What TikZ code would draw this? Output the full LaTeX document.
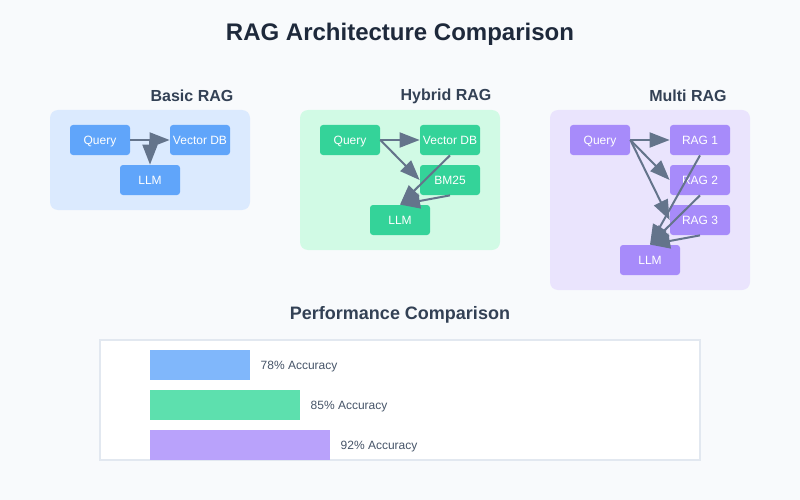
\documentclass[tikz,border=0pt]{standalone}
\usepackage{fontspec}
\setmainfont{Liberation Sans}
\usetikzlibrary{arrows.meta}
\definecolor{mybg}{RGB}{248, 250, 252}
\definecolor{mytitle}{RGB}{30, 41, 59}
\definecolor{mysub}{RGB}{51, 65, 85}
\definecolor{myarrow}{RGB}{100, 116, 139}
\definecolor{mybluebg}{RGB}{219, 234, 254}
\definecolor{mygreenbg}{RGB}{209, 250, 229}
\definecolor{mypurplebg}{RGB}{234, 228, 253}
\definecolor{myblue}{RGB}{96, 165, 250}
\definecolor{mygreen}{RGB}{52, 211, 153}
\definecolor{mypurple}{RGB}{167, 139, 250}
\definecolor{mybarblue}{RGB}{128, 183, 251}
\definecolor{mybargreen}{RGB}{93, 224, 174}
\definecolor{mybarpurple}{RGB}{185, 162, 251}
\definecolor{mylabel}{RGB}{71, 85, 105}
\definecolor{myframe}{RGB}{226, 232, 240}
\tikzset{every picture/.style={line width=0.75pt}}
\tikzset{
  box/.style={minimum width=60pt, minimum height=30pt, inner sep=0pt, rounded corners=3pt, text=white, text height=9.5pt, text depth=0.5pt, font=\fontsize{12}{14}\selectfont},
  flow/.style={draw=myarrow, line width=2pt, -{Triangle[length=20pt,width=15pt]}},
  paneltitle/.style={text=mysub, font=\fontsize{16}{19}\selectfont\bfseries},
  barlabel/.style={anchor=west, text=mylabel, font=\fontsize{12}{14}\selectfont}
}

\begin{document}
\begin{tikzpicture}[x=1pt,y=1pt,yscale=-1,xscale=1]
%Shape: Rectangle [background]
\fill [mybg] (0,0) rectangle (800,500) ;

%Text [title]
\node [text=mytitle, font=\fontsize{24}{28}\selectfont\bfseries] (title) at (400,34) {RAG Architecture Comparison};

%Shape: Rectangle [basic panel]
\fill [mybluebg, rounded corners=8pt] (50,110) rectangle (250,210) ;
\node [paneltitle] (basictitle) at (192,96) {Basic RAG};
\node [box, fill=myblue] (bquery) at (100,140) {Query};
\node [box, fill=myblue] (bvector) at (200,140) {Vector DB};
\node [box, fill=myblue] (bllm) at (150,180) {LLM};
\draw [flow] (bquery.east) -- (bvector.west) ;
\draw [flow] (bquery.east -| bllm.north) -- (bllm.north) ;

%Shape: Rectangle [hybrid panel]
\fill [mygreenbg, rounded corners=8pt] (300,110) rectangle (500,250) ;
\node [paneltitle] (hybridtitle) at (446,96) {Hybrid RAG};
\node [box, fill=mygreen] (hquery) at (350,140) {Query};
\node [box, fill=mygreen] (hvector) at (450,140) {Vector DB};
\node [box, fill=mygreen] (hbm) at (450,180) {BM25};
\node [box, fill=mygreen] (hllm) at (400,220) {LLM};
\draw [flow] (hquery.east) -- (hvector.west) ;
\draw [flow] (hquery.east) -- (hbm.west) ;
\draw [flow] (hvector.south) -- (hllm.north) ;
\draw [flow] (hbm.south) -- (hllm.north) ;

%Shape: Rectangle [multi panel]
\fill [mypurplebg, rounded corners=8pt] (550,110) rectangle (750,290) ;
\node [paneltitle] (multititle) at (688,96) {Multi RAG};
\node [box, fill=mypurple] (mquery) at (600,140) {Query};
\node [box, fill=mypurple] (mragone) at (700,140) {RAG 1};
\node [box, fill=mypurple] (mragtwo) at (700,180) {RAG 2};
\node [box, fill=mypurple] (mragthree) at (700,220) {RAG 3};
\node [box, fill=mypurple] (mllm) at (650,260) {LLM};
\foreach \t in {mragone,mragtwo,mragthree}{
  \draw [flow] (mquery.east) -- (\t.west) ;
}
\foreach \t in {mragone,mragtwo,mragthree}{
  \draw [flow] (\t.south) -- (mllm.north) ;
}

%Text [performance]
\node [text=mysub, font=\fontsize{18}{21}\selectfont\bfseries] (perftitle) at (400,315) {Performance Comparison};
%Shape: Rectangle [chart frame]
\draw [myframe, line width=2pt, fill=white] (100,340) rectangle (700,460) ;
\fill [mybarblue] (150,350) rectangle (250,380) ;
\fill [mybargreen] (150,390) rectangle (300,420) ;
\fill [mybarpurple] (150,430) rectangle (330,460) ;
\node [barlabel] (accone) at (257,367) {78\% Accuracy};
\node [barlabel] (acctwo) at (307,407) {85\% Accuracy};
\node [barlabel] (accthree) at (337,447) {92\% Accuracy};

\end{tikzpicture}
\end{document}
